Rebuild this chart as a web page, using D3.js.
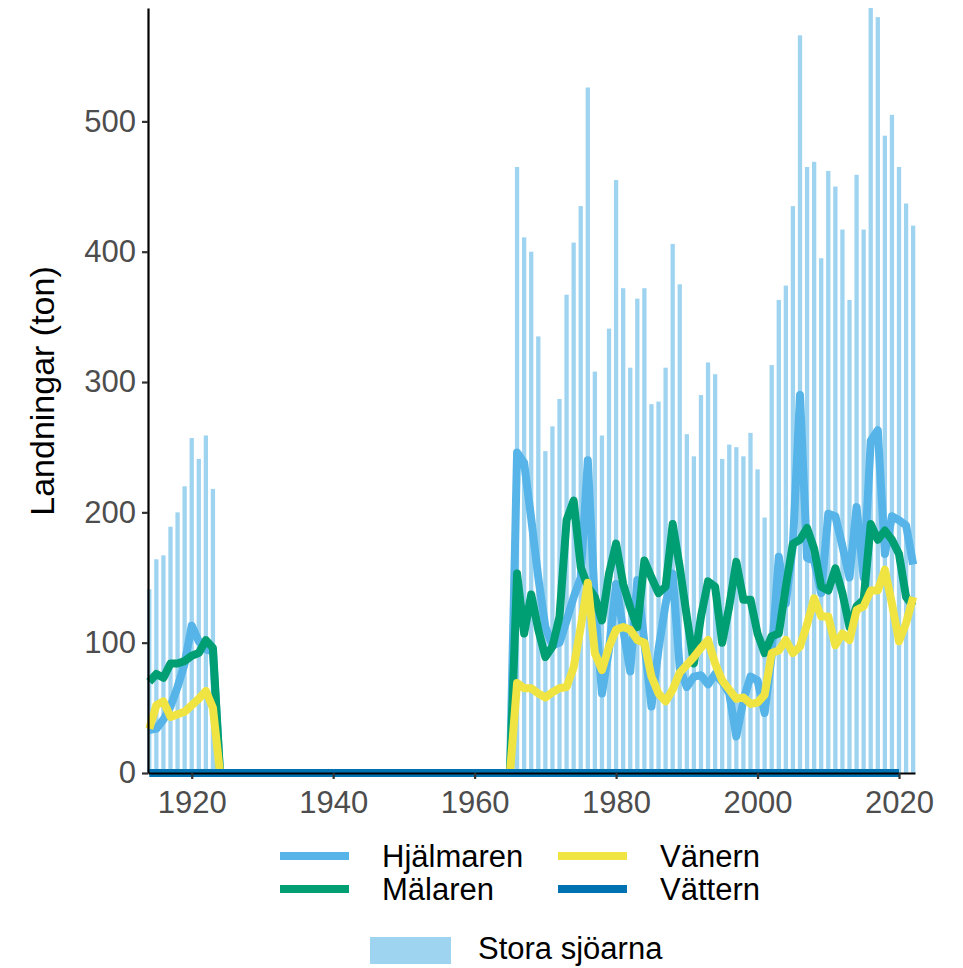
<!DOCTYPE html>
<html>
<head>
<meta charset="utf-8">
<script src="https://cdn.jsdelivr.net/npm/d3@7"></script>
<style>
  body { margin: 0; background: #fff; }
  svg { display: block; font-family: "Liberation Sans", Arial, sans-serif; }
</style>
</head>
<body>
<div id="chart"></div>
<script>
// Bars: total landings, Stora sjöarna (no data 1924-1965)
const barYearsEarly = d3.range(1914, 1924);
const barValuesEarly = [141, 164, 167, 189, 200, 220, 257, 241, 259, 218];
const barYearsLate = d3.range(1966, 2023);
const barValuesLate = [
  465, 411, 400, 335, 247, 266, 287, 367, 407, 435,
  526, 308, 259, 341, 455, 372, 311, 364, 372, 283,
  285, 311, 406, 375, 260, 243, 290, 315, 306, 241,
  252, 250, 243, 261, 233, 196, 313, 363, 374, 435,
  566, 465, 469, 395, 462, 450, 417, 363, 459, 417,
  587, 580, 489, 505, 465, 437, 420
];

// Lines per lake
const lineYearsEarly = d3.range(1914, 1925);
const lineYearsLate = d3.range(1965, 2023);

const hjalmarenEarly = [33, 34, 41, 51, 66, 84, 113, 101, 95, 93, 0];
const hjalmarenLate = [
  0, 246, 238, 195, 150, 112, 98, 100, 117, 135,
  150, 240, 130, 61, 95, 145, 110, 78, 148, 100,
  51, 95, 130, 153, 80, 66, 74, 75, 68, 76,
  70, 61, 28, 56, 74, 71, 46, 90, 166, 130,
  175, 290, 165, 163, 138, 199, 197, 174, 150, 204,
  150, 255, 263, 168, 197, 194, 190, 160
];

const malarenEarly = [70, 76, 73, 84, 84, 86, 90, 92, 102, 96, 0];
const malarenLate = [
  0, 153, 107, 137, 110, 89, 97, 120, 194, 209,
  158, 143, 135, 117, 153, 176, 145, 127, 112, 163,
  150, 138, 143, 191, 158, 120, 84, 120, 147, 143,
  100, 128, 162, 133, 133, 107, 92, 105, 107, 143,
  176, 179, 188, 172, 143, 140, 157, 138, 112, 128,
  133, 191, 179, 186, 179, 168, 135, 128
];

const vanernEarly = [34, 52, 55, 43, 45, 47, 52, 57, 63, 50, 0];
const vanernLate = [
  0, 69, 65, 65, 61, 58, 62, 65, 66, 81,
  112, 146, 92, 79, 97, 110, 112, 110, 102, 100,
  74, 61, 55, 64, 77, 83, 89, 96, 102, 84,
  71, 64, 57, 58, 53, 54, 60, 92, 94, 102,
  92, 97, 114, 134, 120, 120, 98, 107, 102, 125,
  128, 140, 140, 156, 130, 101, 115, 135
];

const vatternYearsLate = d3.range(1965, 2021);
const vatternEarly = [0, 0, 0, 0, 0, 0, 0, 0, 0, 0, 0];
const vatternLate = [
  0, 0, 0, 0, 0, 0, 0, 0, 0, 0,
  0, 0, 0, 0, 0, 0, 0, 0, 0, 0,
  0, 0, 0, 0, 0, 0, 0, 0, 0, 0,
  0, 0, 0, 0, 0, 0, 0, 0, 0, 0,
  0, 0, 0, 0, 0, 0, 0, 0, 0, 0,
  0, 0, 0, 0, 0, 0
];

const lakeNames = ["Hjälmaren", "Mälaren", "Vänern", "Vättern"];
const lakeColors = ["#56B4E9", "#009E73", "#F0E442", "#0072B2"];
const barLabel = "Stora sjöarna";
const barColor = "#9fd4f1";

const xTicks = [1920, 1940, 1960, 1980, 2000, 2020];
const yTicks = [0, 100, 200, 300, 400, 500];

// Build series
const bars = barYearsEarly.map((yr, i) => ({ year: yr, value: barValuesEarly[i] }))
  .concat(barYearsLate.map((yr, i) => ({ year: yr, value: barValuesLate[i] })));

function joinSeries(yearsA, valsA, yearsB, valsB) {
  return yearsA.map((yr, i) => ({ year: yr, value: valsA[i] }))
    .concat(yearsB.map((yr, i) => ({ year: yr, value: valsB[i] })));
}

const series = [
  joinSeries(lineYearsEarly, hjalmarenEarly, lineYearsLate, hjalmarenLate),
  joinSeries(lineYearsEarly, malarenEarly, lineYearsLate, malarenLate),
  joinSeries(lineYearsEarly, vanernEarly, lineYearsLate, vanernLate),
  joinSeries(lineYearsEarly, vatternEarly, vatternYearsLate, vatternLate)
];

const W = 963, H = 968;
const plot = { left: 148, right: 915, top: 8, bottom: 773 };

const svg = d3.select("#chart").append("svg")
  .attr("width", W)
  .attr("height", H);

const x = d3.scaleLinear()
  .domain([1913.82, 2022.26])
  .range([plot.left, plot.right]);

const y = d3.scaleLinear()
  .domain([0, 587])
  .range([plot.bottom, plot.top]);

// Bars
const barW = 4.3;
svg.append("g")
  .selectAll("rect")
  .data(bars)
  .enter()
  .append("rect")
  .attr("x", d => x(d.year) - barW / 2)
  .attr("y", d => y(d.value))
  .attr("width", barW)
  .attr("height", d => y(0) - y(d.value))
  .attr("fill", barColor);

// Lines
const line = d3.line()
  .x(d => x(d.year))
  .y(d => y(d.value));

svg.append("g")
  .selectAll("path")
  .data(series)
  .enter()
  .append("path")
  .attr("d", line)
  .attr("fill", "none")
  .attr("stroke", (d, i) => lakeColors[i])
  .attr("stroke-width", 8)
  .attr("stroke-linejoin", "round");

// Axes
const yAxis = svg.append("g")
  .attr("transform", `translate(${plot.left},0)`)
  .call(d3.axisLeft(y).tickValues(yTicks).tickSize(6).tickPadding(6).tickSizeOuter(0));

const xAxis = svg.append("g")
  .attr("transform", `translate(0,${plot.bottom})`)
  .call(d3.axisBottom(x).tickValues(xTicks).tickFormat(d3.format("d")).tickSize(6).tickPadding(12).tickSizeOuter(0));

[xAxis, yAxis].forEach(ax => {
  ax.select(".domain").attr("stroke", "#000").attr("stroke-width", 2.2);
  ax.selectAll(".tick line").attr("stroke", "#333").attr("stroke-width", 2.2);
  ax.selectAll(".tick text")
    .attr("fill", "#4d4d4d")
    .style("font-size", "31px")
    .style("font-family", '"Liberation Sans", Arial, sans-serif');
});

// y-axis title
svg.append("text")
  .attr("transform", "rotate(-90)")
  .attr("x", -391)
  .attr("y", 54)
  .style("text-anchor", "middle")
  .style("font-size", "34px")
  .text("Landningar (ton)");

// Legend
const legendPos = [
  { x: 280, y: 856 },
  { x: 280, y: 889 },
  { x: 558, y: 856 },
  { x: 558, y: 889 }
];
const legend = svg.append("g");
lakeNames.forEach((name, i) => {
  const p = legendPos[i];
  legend.append("line")
    .attr("x1", p.x).attr("x2", p.x + 69)
    .attr("y1", p.y).attr("y2", p.y)
    .attr("stroke", lakeColors[i])
    .attr("stroke-width", 8);
  legend.append("text")
    .attr("x", p.x + 102)
    .attr("y", p.y + 11)
    .style("font-size", "31px")
    .text(name);
});
legend.append("rect")
  .attr("x", 370).attr("y", 937)
  .attr("width", 81).attr("height", 27)
  .attr("fill", barColor);
legend.append("text")
  .attr("x", 478)
  .attr("y", 959)
  .style("font-size", "31px")
  .text(barLabel);
</script>
</body>
</html>
